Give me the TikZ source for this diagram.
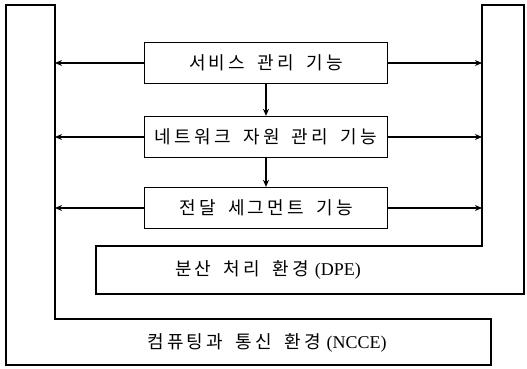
\documentclass[tikz,border=0pt]{standalone}
\usepackage{fontspec}
\setmainfont{Liberation Serif}
\newfontfamily\kr[LetterSpace=18,WordSpace=1.7]{Noto Sans CJK KR}
\usetikzlibrary{arrows.meta}
\tikzset{
  frame/.style={line width=1.2pt, line join=miter},
  funcbox/.style={draw, line width=1.2pt, minimum width=243pt, minimum height=41pt, inner sep=0pt, font=\fontsize{18pt}{20pt}\kr},
  envlabel/.style={inner sep=0pt, font=\fontsize{18pt}{20pt}\selectfont},
  conn/.style={line width=1.2pt, -{Stealth[length=7pt,width=6pt]}}
}
\begin{document}
\begin{tikzpicture}[x=1pt,y=-1pt]
\useasboundingbox (0,0) rectangle (527,369);
% NCCE frame
\draw[frame] (6,5) -- (55,5) -- (55,319) -- (491,319) -- (491,365) -- (6,365) -- cycle;
% DPE frame
\draw[frame] (96,246) -- (482,246) -- (482,5) -- (524,5) -- (524,294) -- (96,294) -- cycle;
% function boxes
\node[funcbox] (svc) at (266,63) {서비스 관리 기능};
\node[funcbox] (net) at (266,137) {네트워크 자원 관리 기능};
\node[funcbox] (seg) at (266,208) {전달 세그먼트 기능};
% environment labels
\node[envlabel] (dpe) at (268,270) {{\kr 분산 처리 환경}\hspace{6pt}(DPE)};
\node[envlabel] (ncce) at (267,343) {{\kr 컴퓨팅과 통신 환경}\hspace{6pt}(NCCE)};
% side coordinates
\coordinate (l1) at (55,63);
\coordinate (l2) at (55,137);
\coordinate (l3) at (55,208);
\coordinate (r1) at (482,63);
\coordinate (r2) at (482,137);
\coordinate (r3) at (482,208);
% connectors
\draw[conn] (svc.south) -- (net.north);
\draw[conn] (net.south) -- (seg.north);
\draw[conn] (svc.west) -- (l1);
\draw[conn] (net.west) -- (l2);
\draw[conn] (seg.west) -- (l3);
\draw[conn] (svc.east) -- (r1);
\draw[conn] (net.east) -- (r2);
\draw[conn] (seg.east) -- (r3);
\end{tikzpicture}
\end{document}
